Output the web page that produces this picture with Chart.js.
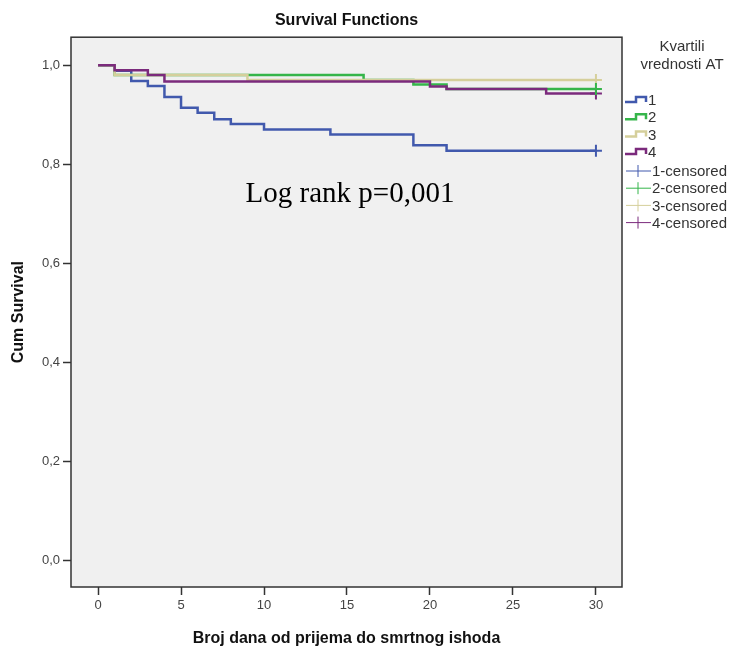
<!DOCTYPE html>
<html>
<head>
<meta charset="utf-8">
<script src="https://cdn.jsdelivr.net/npm/chart.js@4"></script>
<style>
  body { margin: 0; background: #fff; }
  #wrap { width: 733px; height: 651px; }
</style>
</head>
<body>
<div id="wrap"><canvas id="chart" width="733" height="651"></canvas></div>
<script>
// Kaplan-Meier steps per quartile (day, cumulative survival)
const groups = ['1', '2', '3', '4'];
const days1 = [0, 1, 2, 3, 4, 5, 6, 7, 8, 10, 14, 19, 21, 30];
const surv1 = [1, 0.989, 0.968, 0.958, 0.936, 0.914, 0.904, 0.891, 0.881, 0.870, 0.860, 0.838, 0.827, 0.827];
const days2 = [0, 1, 16, 19, 21, 30];
const surv2 = [1, 0.98, 0.97, 0.961, 0.952, 0.952];
const days3 = [0, 1, 9, 30];
const surv3 = [1, 0.98, 0.97, 0.97];
const days4 = [0, 1, 3, 4, 20, 21, 27, 30];
const surv4 = [1, 0.99, 0.98, 0.967, 0.957, 0.952, 0.943, 0.943];
const censorDay = [30, 30, 30, 30];
const censorSurv = [0.827, 0.952, 0.97, 0.943];
const xTicks = [0, 5, 10, 15, 20, 25, 30];
const yTicks = [0, 0.2, 0.4, 0.6, 0.8, 1.0];

const colors = ['#4159ad', '#35b54a', '#d5cf9b', '#7b2a7c'];
const drawOrder = [3, 2, 1, 0]; // purple on top
const font = '"Liberation Sans", Arial, sans-serif';

const allDays = [days1, days2, days3, days4];
const allSurv = [surv1, surv2, surv3, surv4];

const datasets = [];
groups.forEach((g, i) => {
  datasets.push({
    label: g,
    data: allDays[i].map((d, k) => ({ x: d, y: allSurv[i][k] })),
    borderColor: colors[i],
    borderWidth: 2.5,
    stepped: 'before',
    pointRadius: 0,
    fill: false,
    order: drawOrder[i]
  });
});
groups.forEach((g, i) => {
  datasets.push({
    label: g + '-censored',
    type: 'scatter',
    data: [{ x: censorDay[i], y: censorSurv[i] }],
    borderColor: colors[i],
    backgroundColor: colors[i],
    pointStyle: 'cross',
    pointRadius: 6,
    borderWidth: 2,
    order: -1 - drawOrder[i]
  });
});

const extras = {
  id: 'extras',
  beforeDraw(chart) {
    const { ctx, chartArea: a } = chart;
    ctx.save();
    ctx.fillStyle = '#f0f0f0';
    ctx.fillRect(a.left, a.top, a.width, a.height);
    ctx.restore();
  },
  afterDraw(chart) {
    const { ctx, chartArea: a } = chart;
    ctx.save();
    ctx.strokeStyle = '#333';
    ctx.lineWidth = 1.5;
    ctx.strokeRect(a.left, a.top, a.width, a.height);

    ctx.fillStyle = '#000';
    ctx.textAlign = 'center';
    ctx.textBaseline = 'middle';
    ctx.font = '29px "Liberation Serif", "Times New Roman", serif';
    ctx.fillText('Log rank p=0,001', 350, 194);

    // legend
    ctx.fillStyle = '#333';
    ctx.font = '15px ' + font;
    ctx.fillText('Kvartili', 682, 47);
    ctx.fillText('vrednosti AT', 682, 65);
    ctx.textAlign = 'left';
    groups.forEach((g, i) => {
      const y = 100 + i * 17.3;
      ctx.strokeStyle = colors[i];
      ctx.lineWidth = 2.5;
      ctx.beginPath();
      ctx.moveTo(625, y + 2);
      ctx.lineTo(636, y + 2);
      ctx.lineTo(636, y - 3);
      ctx.lineTo(646, y - 3);
      ctx.lineTo(646, y + 2);
      ctx.stroke();
      ctx.fillText(g, 648, y + 1);
    });
    groups.forEach((g, i) => {
      const y = 171 + i * 17.2;
      ctx.strokeStyle = colors[i];
      ctx.lineWidth = 1;
      ctx.beginPath();
      ctx.moveTo(626, y);
      ctx.lineTo(651, y);
      ctx.moveTo(638, y - 6);
      ctx.lineTo(638, y + 6);
      ctx.stroke();
      ctx.fillText(g + '-censored', 652, y + 1);
    });
    ctx.restore();
  }
};

new Chart(document.getElementById('chart'), {
  type: 'line',
  data: { datasets },
  plugins: [extras],
  options: {
    responsive: false,
    animation: false,
    layout: { padding: { left: 0, right: 111, top: 0, bottom: 0 } },
    plugins: {
      legend: { display: false },
      tooltip: { enabled: false },
      title: {
        display: true,
        text: 'Survival Functions',
        fullSize: false,
        color: '#111',
        font: { family: font, size: 16, weight: 'bold' },
        padding: { top: 11, bottom: 7 }
      }
    },
    scales: {
      x: {
        type: 'linear',
        min: -1.63,
        max: 31.57,
        afterBuildTicks: s => { s.ticks = xTicks.map(v => ({ value: v })); },
        afterFit: s => { s.height = 64; },
        border: { display: false },
        grid: { drawOnChartArea: false, tickLength: 8, tickColor: '#333', tickWidth: 1.5 },
        ticks: { color: '#444', font: { family: font, size: 13 }, padding: 3, maxRotation: 0 },
        title: {
          display: true,
          text: 'Broj dana od prijema do smrtnog ishoda',
          color: '#111',
          font: { family: font, size: 16, weight: 'bold' },
          padding: { top: 0, bottom: 3 }
        }
      },
      y: {
        min: -0.0545,
        max: 1.0566,
        afterBuildTicks: s => { s.ticks = yTicks.map(v => ({ value: v })); },
        afterFit: s => { s.width = 71; },
        border: { display: false },
        grid: { drawOnChartArea: false, tickLength: 8, tickColor: '#333', tickWidth: 1.5 },
        ticks: {
          color: '#444',
          font: { family: font, size: 13 },
          padding: 3,
          callback: v => v.toFixed(1).replace('.', ',')
        },
        title: {
          display: true,
          text: 'Cum Survival',
          color: '#111',
          font: { family: font, size: 16, weight: 'bold' },
          padding: { top: 9, bottom: 0 }
        }
      }
    }
  }
});
</script>
</body>
</html>
